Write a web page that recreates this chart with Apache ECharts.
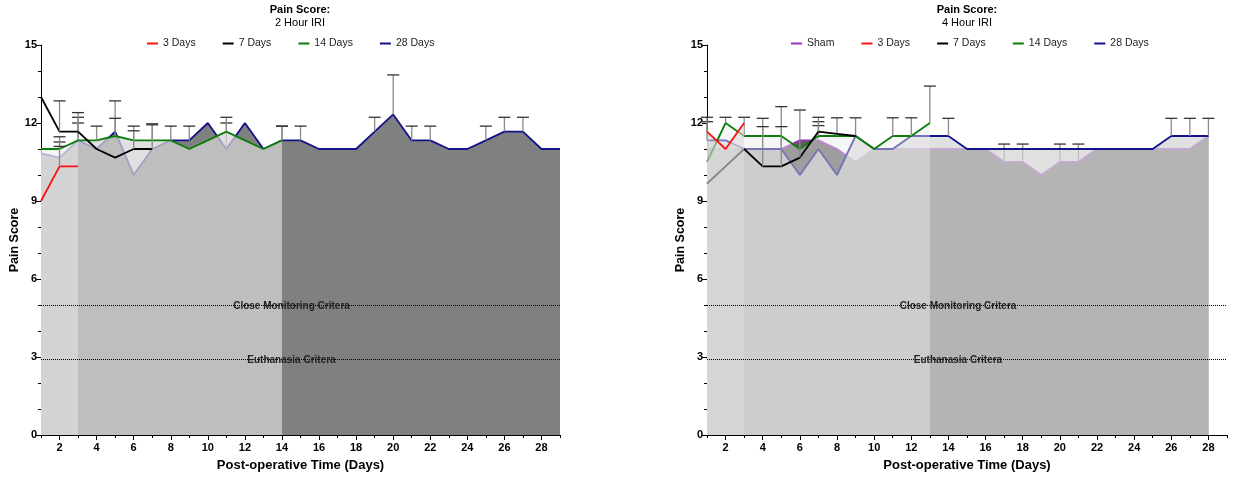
<!DOCTYPE html>
<html><head><meta charset="utf-8">
<script src="https://cdn.jsdelivr.net/npm/echarts@6/dist/echarts.min.js"></script>
<style>html,body{margin:0;padding:0;background:#fff}#c{width:1233px;height:478px}</style>
</head><body><div id="c"></div>
<script>
// ---------- data ----------
const days = [1,2,3,4,5,6,7,8,9,10,11,12,13,14,15,16,17,18,19,20,21,22,23,24,25,26,27,28,29];
const xLabelDays = [2,4,6,8,10,12,14,16,18,20,22,24,26,28];
const xMinorDays = [1,3,5,7,9,11,13,15,17,19,21,23,25,27,29];
const leftLegend = ['3 Days','7 Days','14 Days','28 Days'];
const rightLegend = ['Sham','3 Days','7 Days','14 Days','28 Days'];
const criteria = [5, 2.9];
const criteriaNames = ['Close Monitoring Critera', 'Euthanasia Critera'];

// 2 Hour IRI (left panel)
const h2_3d  = [9, 10.33, 10.33];
const h2_7d  = [13, 11.67, 11.67, 11, 10.67, 11, 11];
const h2_14d = [11, 11, 11.33, 11.33, 11.5, 11.33, 11.33, 11.33, 11, 11.33, 11.67, 11.33, 11, 11.33];
const h2_28d = [10.83, 10.67, 11.33, 11, 11.67, 10, 11, 11.33, 11.33, 12, 11, 12, 11, 11.33, 11.33, 11, 11, 11, 11.67, 12.33, 11.33, 11.33, 11, 11, 11.33, 11.67, 11.67, 11, 11];
const h2_3d_sd  = [null, 0.77, null];
const h2_7d_sd  = [null, 1.18, 0.73, null, null, 0.7, 0.93];
const h2_14d_sd = [null, 0.47, 0.89, 0.55, 0.68, 0.55, 0.64, 0.55, null, null, 0.55, null, null, 0.55];
const h2_28d_sd = [null, 0.6, 0.67, null, 1.18, null, null, null, 0.55, null, 1, null, null, 0.55, 0.55, null, null, null, 0.55, 1.52, 0.55, 0.55, null, null, 0.55, 0.55, 0.55, null, null];

// 4 Hour IRI (right panel)
const h4_sham = [11, 11, 11, 11, 11, 11.33, 11.33, 11, 10.5, 11, 11, 11, 11, 11, 11, 11, 10.5, 10.5, 10, 10.5, 10.5, 11, 11, 11, 11, 11, 11, 11.5];
const h4_3d  = [11.67, 11, 12];
const h4_7d  = [9.67, 10.33, 11, 10.33, 10.33, 10.67, 11.67, 11.58, 11.5];
const h4_14d = [10.5, 12, 11.5, 11.5, 11.5, 11, 11.5, 11.5, 11.5, 11, 11.5, 11.5, 12];
const h4_28d = [11.33, 11.33, 11, 11, 11, 10, 11, 10, 11.5, 11, 11, 11.5, 11.5, 11.5, 11, 11, 11, 11, 11, 11, 11, 11, 11, 11, 11, 11.5, 11.5, 11.5];
const h4_sham_sd = [null, null, null, null, null, null, 0.57, null, null, null, null, null, null, null, null, null, 0.69, 0.69, null, 0.69, 0.69, null, null, null, null, null, null, null];
const h4_3d_sd  = [0.55, null, null];
const h4_7d_sd  = [null, null, null, 1.53, 1.53, 1.83, 0.55, null, null];
const h4_14d_sd = [null, 0.22, 0.72, 0.68, null, null, 0.55, 0.7, 0.7, null, 0.7, 0.7, 1.42];
const h4_28d_sd = [0.72, null, null, null, 1.63, null, null, null, null, null, null, null, null, 0.68, null, null, null, null, null, null, null, null, null, null, null, 0.68, 0.68, 0.68];

// ---------- styles ----------
const C = {sham:'#9b30c0', d3:'#ff1010', d7:'#000000', d14:'#0b7d0b', d28:'#12128c'};
const FONT = "'Liberation Sans', Arial, sans-serif";

function pairs(vals){ return vals.map((v,i)=>[days[i], v]); }
function errData(vals, sds){ const out=[]; vals.forEach((v,i)=>{ if(sds[i]!=null) out.push([days[i], v, v+sds[i]]); }); return out; }
function lineSeries(name, color, vals, area, g, z, extra){
  const s = {name, type:'line', xAxisIndex:g*2, yAxisIndex:g, data:pairs(vals), symbol:'none', z,
    lineStyle:{color, width:1.8}, itemStyle:{color}, silent:true, animation:false};
  if (area) s.areaStyle = {color:area, opacity:1};
  return Object.assign(s, extra||{});
}
function errSeries(vals, sds, g, z){
  return {name:'err', type:'custom', xAxisIndex:g*2, yAxisIndex:g, z, silent:true, animation:false, clip:false,
    data: errData(vals, sds), encode:{x:0, y:[1,2]},
    renderItem:(params, api)=>{
      const p0 = api.coord([api.value(0), api.value(1)]);
      const p1 = api.coord([api.value(0), api.value(2)]);
      return {type:'group', children:[
        {type:'line', shape:{x1:p0[0],y1:p0[1],x2:p1[0],y2:p1[1]}, style:{stroke:'#8a8a8a', lineWidth:1.3}},
        {type:'line', shape:{x1:p1[0]-6,y1:p1[1],x2:p1[0]+6,y2:p1[1]}, style:{stroke:'#333', lineWidth:1.3}}
      ]};
    }};
}
function stepGradient(colA, colB, len){
  const s = (3-1)/(len-1);
  return new echarts.graphic.LinearGradient(0,0,1,0,[
    {offset:0,color:colA},{offset:s,color:colA},{offset:s,color:colB},{offset:1,color:colB}]);
}
function markLines(){
  return {silent:true, symbol:'none', z:50, animation:false,
    lineStyle:{type:'dotted', color:'#000', width:1},
    data: criteria.map((v,i)=>({yAxis:v, label:{show:true, position:'middle', formatter:criteriaNames[i],
      fontFamily:FONT, fontWeight:'bold', fontSize:10, color:'#222', distance:-6, offset:[-9,0]}}))};
}
function xAxes(g){
  return [
    {type:'value', gridIndex:g, min:1, max:29, position:'bottom',
     axisLine:{show:true, onZero:false, lineStyle:{color:'#000', width:1}},
     axisTick:{show:true, customValues:xLabelDays, length:5, lineStyle:{color:'#000'}},
     axisLabel:{customValues:xLabelDays, color:'#000', fontWeight:'bold', fontSize:11, fontFamily:FONT, margin:7},
     splitLine:{show:false},
     name:'Post-operative Time (Days)', nameLocation:'middle', nameGap:24,
     nameTextStyle:{fontWeight:'bold', fontSize:13, color:'#000', fontFamily:FONT}},
    {type:'value', gridIndex:g, min:1, max:29, position:'bottom',
     axisLine:{show:false, onZero:false},
     axisTick:{show:true, customValues:xMinorDays, length:3, lineStyle:{color:'#000'}},
     axisLabel:{show:false}, splitLine:{show:false}}
  ];
}
function yAxis(g){
  return {type:'value', gridIndex:g, min:0, max:15, interval:3,
    axisLine:{show:true, lineStyle:{color:'#000'}},
    axisTick:{show:true, length:5, lineStyle:{color:'#000'}},
    minorTick:{show:true, splitNumber:3, length:3, lineStyle:{color:'#000'}},
    axisLabel:{color:'#000', fontWeight:'bold', fontSize:11, fontFamily:FONT, margin:4},
    splitLine:{show:false}, minorSplitLine:{show:false},
    name:'Pain Score', nameLocation:'middle', nameGap:20,
    nameTextStyle:{fontWeight:'bold', fontSize:12.5, color:'#000', fontFamily:FONT}};
}

const series = [
  // left panel (drawing order 28 -> 14 -> 7 -> 3)
  lineSeries('28 Days', C.d28, h2_28d, '#808080', 0, 2),
  errSeries(h2_28d, h2_28d_sd, 0, 3),
  lineSeries('14 Days', C.d14, h2_14d, stepGradient('rgba(242,242,242,0.73)','rgba(213,213,213,0.73)', h2_14d.length), 0, 4),
  errSeries(h2_14d, h2_14d_sd, 0, 5),
  lineSeries('7 Days', C.d7, h2_7d, null, 0, 6),
  errSeries(h2_7d, h2_7d_sd, 0, 7),
  lineSeries('3 Days', C.d3, h2_3d, null, 0, 8, {markLine: markLines()}),
  errSeries(h2_3d, h2_3d_sd, 0, 9),
  // right panel (drawing order Sham -> 28 -> 14 -> 7 -> 3)
  lineSeries('Sham', C.sham, h4_sham, '#5e5e5e', 1, 2),
  errSeries(h4_sham, h4_sham_sd, 1, 3),
  lineSeries('28 Days', C.d28, h4_28d, 'rgba(213,213,213,0.73)', 1, 4),
  errSeries(h4_28d, h4_28d_sd, 1, 5),
  lineSeries('14 Days', C.d14, h4_14d, 'rgba(234,234,234,0.45)', 1, 6),
  errSeries(h4_14d, h4_14d_sd, 1, 7),
  lineSeries('7 Days', C.d7, h4_7d, null, 1, 8),
  errSeries(h4_7d, h4_7d_sd, 1, 9),
  lineSeries('3 Days', C.d3, h4_3d, 'rgba(218,218,218,0.6)', 1, 10, {markLine: markLines()}),
  errSeries(h4_3d, h4_3d_sd, 1, 11)
];

const legendCommon = {top:33, icon:'rect', itemWidth:11, itemHeight:2, itemGap:27,
  textStyle:{fontSize:10.5, color:'#222', fontFamily:FONT}, selectedMode:false};

const option = {
  animation:false,
  backgroundColor:'#fff',
  title:[
    {text:'Pain Score:', subtext:'2 Hour IRI', left:300, top:4, textAlign:'center', padding:0, itemGap:2,
     textStyle:{fontSize:11, fontWeight:'bold', color:'#000', fontFamily:FONT},
     subtextStyle:{fontSize:11, color:'#000', fontFamily:FONT}},
    {text:'Pain Score:', subtext:'4 Hour IRI', left:967, top:4, textAlign:'center', padding:0, itemGap:2,
     textStyle:{fontSize:11, fontWeight:'bold', color:'#000', fontFamily:FONT},
     subtextStyle:{fontSize:11, color:'#000', fontFamily:FONT}}
  ],
  legend:[
    Object.assign({data:leftLegend, left:142}, legendCommon),
    Object.assign({data:rightLegend, left:786}, legendCommon)
  ],
  grid:[
    {left:41, right:673, top:45, bottom:43},
    {left:707, right:6, top:45, bottom:43}
  ],
  xAxis:[...xAxes(0), ...xAxes(1)],
  yAxis:[yAxis(0), yAxis(1)],
  series
};
const chart = echarts.init(document.getElementById('c'), null, {renderer:'canvas'});
chart.setOption(option);
</script></body></html>
